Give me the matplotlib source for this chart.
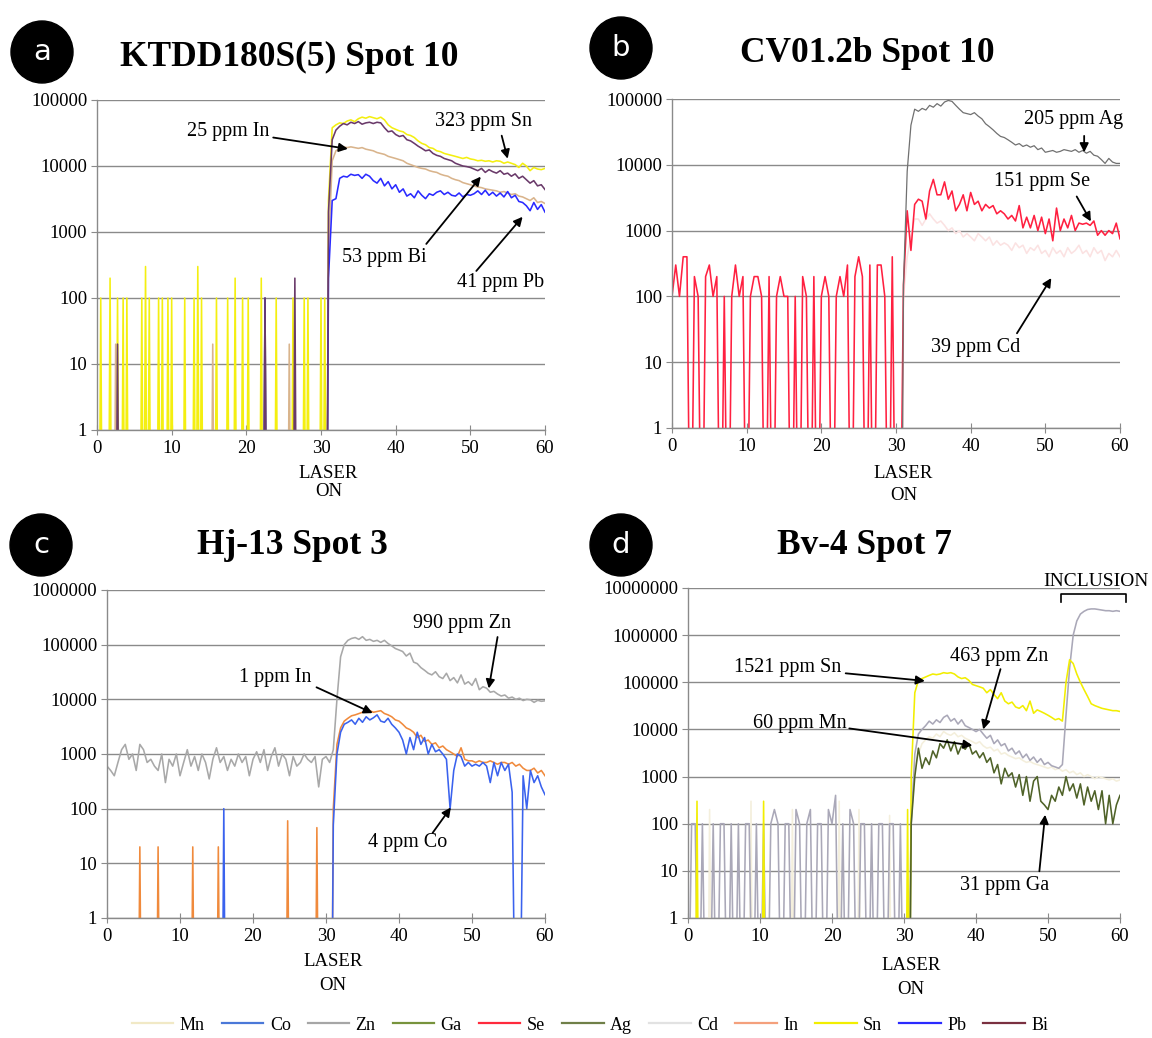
import numpy as np
import matplotlib
matplotlib.use("Agg")
import matplotlib.pyplot as plt
from matplotlib.lines import Line2D
from matplotlib.patches import Ellipse
from matplotlib.ticker import NullLocator

plt.rcParams['font.family'] = ['Liberation Serif', 'DejaVu Serif']

# ---------------- DATA ----------------
# background (before laser on) sparse spikes: times (s) and cps values; signal: cps every 0.5 s from 31.0 s
# Panel a : KTDD180S(5) Spot 10
sn_a_bg_t = [0.5, 1.75, 2.75, 3.5, 4.0, 6.0, 6.5, 7.0, 8.25, 8.75, 9.5, 10.0, 11.75, 13.0, 13.5,
             14.0, 16.0, 17.5, 18.5, 19.5, 20.25, 22.0, 22.5, 24.0, 26.25, 27.75, 28.25, 30.0, 30.5]
sn_a_bg_v = [100, 200, 100, 100, 100, 100, 300, 100, 100, 100, 100, 100, 100, 100, 300,
             100, 100, 100, 200, 100, 100, 200, 100, 100, 100, 100, 100, 100, 100]
bi_a_bg_t = [2.75, 22.5, 26.5]
bi_a_bg_v = [20, 100, 200]
in_a_bg_t = [2.5, 15.5, 25.75]
in_a_bg_v = [20, 20, 20]
pb_a_bg_t = [22.5]
pb_a_bg_v = [100]
sn_a = [3000, 38000, 42000, 45000, 44000, 48000, 50000, 47000, 52000, 55000,
        53000, 56000, 54000, 52000, 55000, 50000, 42000, 38000, 36000, 34000,
        33000, 30000, 29000, 27000, 24000, 22000, 21000, 19000, 18500, 17000,
        16500, 15500, 15000, 14500, 14000, 13500, 13000, 13500, 12800, 12500,
        12000, 12200, 11800, 12000, 11500, 12000, 11800, 11000, 11500, 11000,
        10500, 9500, 11000, 10000, 8500, 9500, 9000, 8800, 9200]
bi_a = [2000, 25000, 35000, 40000, 44000, 42000, 46000, 44000, 47000, 43000,
        45000, 46000, 44000, 46000, 45000, 38000, 33000, 34000, 30000, 28000,
        29000, 25000, 24000, 22000, 20000, 18500, 17000, 17500, 15500, 14500,
        14000, 13000, 12500, 12000, 11000, 10500, 10000, 9800, 9500, 9000,
        8500, 9200, 8000, 8800, 8200, 7800, 8500, 7500, 7800, 7000,
        7600, 6500, 7000, 6200, 5500, 6000, 5000, 5200, 4400]
in_a = [500, 12000, 17000, 18500, 19500, 19000, 19500, 19000, 18500, 19000,
        18000, 17500, 17000, 16000, 15500, 15000, 14000, 13500, 13000, 12500,
        12000, 11000, 10500, 10000, 9500, 9200, 9000, 8500, 8200, 8000,
        7500, 7200, 7000, 6500, 6200, 6000, 5600, 5400, 5200, 5000,
        4800, 4700, 4500, 4400, 4300, 4200, 4000, 4100, 3900, 3700,
        3800, 3500, 3400, 3200, 3000, 3300, 2800, 2900, 2700]
pb_a = [200, 3000, 3200, 6500, 7000, 6800, 7500, 7200, 7400, 6500,
        7500, 7000, 6000, 5500, 6500, 5000, 5800, 4500, 5200, 4000,
        4500, 3500, 3800, 3300, 4200, 3600, 3200, 3800, 3600, 4000,
        4200, 3700, 4000, 3600, 3500, 3900, 3400, 3700, 3600, 3800,
        4200, 3700, 4300, 3600, 4000, 3500, 3900, 3400, 4100, 3300,
        3600, 2900, 2800, 2500, 2100, 2800, 2200, 2600, 2000]

# Panel b : CV01.2b Spot 10 (Se background every 0.5 s from 0 s)
se_b_bg = [100, 300, 100, 400, 400, 0, 200, 100, 0, 200,
           300, 100, 200, 0, 100, 0, 100, 300, 100, 200,
           0, 100, 200, 200, 100, 0, 200, 0, 100, 200,
           100, 100, 0, 100, 0, 200, 100, 0, 200, 0,
           100, 200, 100, 0, 100, 200, 100, 300, 0, 200,
           400, 200, 0, 300, 0, 300, 300, 100, 0, 400,
           0, 0]
ag_b = [150, 8000, 40000, 70000, 65000, 72000, 68000, 80000, 75000, 85000,
        78000, 90000, 95000, 92000, 80000, 70000, 62000, 60000, 58000, 62000,
        55000, 50000, 42000, 38000, 34000, 30000, 27000, 26000, 24000, 22000,
        20000, 21000, 19000, 20000, 18500, 19500, 17000, 18000, 15500, 16000,
        16500, 15500, 16000, 17000, 16500, 16000, 17000, 15500, 16500, 15000,
        16000, 14000, 13500, 12000, 10500, 12500, 11000, 10500, 10500]
se_b = [150, 2000, 500, 2500, 3000, 2800, 1500, 4000, 6000, 3500,
        3500, 5500, 3000, 4000, 2000, 2500, 3500, 2000, 3800, 2500,
        2800, 2000, 2500, 2200, 2400, 1800, 2000, 1800, 1500, 1700,
        1400, 2400, 1100, 1600, 1100, 1700, 1000, 1600, 900, 1500,
        700, 2200, 1000, 1500, 1100, 1700, 1000, 1300, 1250, 1300,
        1200, 1400, 850, 1000, 850, 1000, 900, 1300, 750]
cd_b = [100, 400, 800, 1500, 1500, 1200, 1500, 1800, 1500, 1300,
        1400, 1200, 1000, 1100, 900, 1000, 800, 900, 800, 700,
        900, 800, 700, 800, 600, 700, 600, 650, 600, 500,
        650, 550, 600, 450, 550, 500, 600, 450, 500, 400,
        550, 450, 500, 400, 550, 450, 500, 600, 450, 500,
        400, 550, 450, 500, 350, 450, 400, 500, 400]

# Panel c : Hj-13 Spot 3
zn_c_bg = [600, 500, 400, 700, 1200, 1500, 800, 1000, 500, 1500,
           1200, 700, 800, 600, 500, 1000, 300, 800, 600, 1000,
           400, 700, 1200, 600, 900, 500, 1000, 700, 350, 800,
           1300, 700, 900, 500, 800, 600, 1000, 700, 900, 400,
           800, 1100, 700, 1200, 500, 900, 1300, 600, 1000, 800,
           400, 900, 600, 700, 1000, 800, 700, 900, 250, 800,
           900, 700]
in_c_bg_t = [4.5, 7.0, 11.75, 15.25, 24.75, 28.75]
in_c_bg_v = [20, 20, 20, 20, 60, 45]
co_c_bg_t = [16.0]
co_c_bg_v = [100]
zn_c = [1200, 10000, 60000, 100000, 120000, 130000, 135000, 125000, 140000, 120000,
        125000, 115000, 120000, 110000, 120000, 105000, 95000, 85000, 80000, 75000,
        62000, 70000, 48000, 45000, 38000, 34000, 30000, 28000, 32000, 26000,
        24000, 30000, 22000, 25000, 20000, 28000, 19000, 21000, 18000, 24000,
        15000, 17000, 16000, 13500, 14000, 12500, 11500, 12000, 10500, 11000,
        10000, 10500, 9500, 10000, 9800, 8800, 9600, 9200, 9400]
in_c = [100, 1500, 3000, 4000, 4500, 5000, 5200, 5500, 5800, 6000,
        6200, 5800, 6000, 6200, 5500, 5200, 4800, 4200, 4000, 3500,
        3000, 2800, 2500, 2000, 2200, 1700, 1800, 1500, 1600, 1300,
        1400, 1200, 1100, 1000, 900, 1300, 800, 750, 750, 700,
        750, 700, 700, 750, 700, 650, 700, 700, 650, 700,
        600, 650, 550, 500, 500, 550, 450, 500, 400]
co_c = [50, 1000, 2500, 3500, 3800, 4200, 3500, 4500, 3800, 4800,
        4200, 4600, 5200, 4000, 3800, 4500, 3500, 3000, 2500, 1800,
        1000, 2000, 1200, 2500, 1500, 2000, 1000, 1500, 1100, 1200,
        1000, 800, 100, 500, 1000, 900, 600, 700, 600, 650,
        600, 700, 600, 300, 700, 400, 700, 500, 650, 200,
        0, 0, 400, 100, 500, 300, 400, 250, 180]

# Panel d : Bv-4 Spot 7
zn_d_bg = [0, 100, 100, 0, 100, 0, 0, 100, 0, 100,
           100, 0, 100, 0, 100, 0, 100, 100, 0, 100,
           0, 100, 0, 100, 200, 100, 0, 100, 100, 0,
           200, 100, 0, 100, 200, 0, 100, 100, 0, 200,
           100, 400, 0, 100, 0, 200, 100, 0, 100, 100,
           0, 100, 0, 100, 100, 0, 100, 100, 0, 100,
           0, 0]
sn_d_bg_t = [1.25, 10.5, 30.5]
sn_d_bg_v = [300, 300, 200]
mn_d_bg_t = [3.0, 8.75, 14.5, 21.0, 23.75, 28.0]
mn_d_bg_v = [200, 300, 200, 300, 200, 150]
sn_d = [1000, 60000, 110000, 120000, 130000, 140000, 150000, 145000, 150000, 160000,
        155000, 160000, 150000, 130000, 120000, 125000, 110000, 90000, 85000, 80000,
        75000, 60000, 70000, 55000, 45000, 60000, 40000, 35000, 38000, 30000,
        28000, 32000, 25000, 40000, 22000, 26000, 24000, 22000, 20000, 18000,
        16000, 17000, 15000, 100000, 300000, 250000, 150000, 100000, 70000, 50000,
        35000, 32000, 30000, 28000, 27000, 26000, 25000, 25000, 24000]
zn_d = [100, 3000, 8000, 10000, 12000, 15000, 13000, 16000, 14000, 18000,
        20000, 15000, 17000, 13000, 16000, 12000, 11000, 10000, 9000, 10000,
        8000, 6500, 7500, 5000, 6000, 4500, 5000, 3500, 4000, 3000,
        3500, 2500, 3000, 2200, 2600, 2000, 2400, 1800, 2000, 1700,
        1600, 1500, 1800, 20000, 200000, 1000000, 2000000, 2800000, 3200000, 3500000,
        3600000, 3600000, 3500000, 3400000, 3300000, 3300000, 3200000, 3300000, 3200000]
ga_d = [100, 1000, 4000, 1500, 2500, 1800, 3500, 2500, 5000, 4000,
        6000, 3500, 5500, 3000, 4500, 3800, 5000, 3000, 3500, 2500,
        3200, 2000, 2500, 1200, 1800, 700, 1500, 1000, 1200, 600,
        1100, 400, 1000, 300, 800, 1000, 300, 250, 200, 400,
        300, 600, 400, 1000, 500, 700, 350, 700, 250, 600,
        300, 500, 200, 500, 100, 400, 100, 250, 400]
mn_d = [100, 1500, 3000, 5000, 6000, 7000, 6500, 8000, 7000, 9000,
        8000, 7500, 8500, 7000, 7500, 6500, 6000, 5500, 5000, 5500,
        4500, 4000, 4200, 3500, 3800, 3000, 3200, 2800, 2600, 2400,
        2500, 2200, 2000, 2100, 1900, 1800, 1700, 1600, 1500, 1600,
        1400, 1500, 1300, 1400, 1200, 1300, 1100, 1200, 1000, 1100,
        1000, 900, 1000, 950, 900, 850, 900, 800, 850]

legend_labels = ['Mn', 'Co', 'Zn', 'Ga', 'Se', 'Ag', 'Cd', 'In', 'Sn', 'Pb', 'Bi']
legend_colors = ['#f1e9c6', '#4a78d8', '#a6a6a6', '#77933c', '#ff2a3c', '#6f7f48',
                 '#e2e2e2', '#f4a07c', '#f2ee00', '#2a2aff', '#7a3040']

T_ON = 31.0
SIG_STEP = 0.5


def build(sig, bg_t=None, bg_v=None, bg_dense=None, bg_step=0.25):
    if bg_dense is not None:
        tb = np.arange(len(bg_dense)) * 0.5
        vb = np.array(bg_dense, dtype=float)
    else:
        tb = np.arange(0, T_ON, bg_step)
        vb = np.zeros_like(tb)
        if bg_t:
            for t, v in zip(bg_t, bg_v):
                vb[int(round(t / bg_step))] = v
    ts = T_ON + SIG_STEP * np.arange(len(sig))
    t = np.concatenate([tb, ts])
    v = np.concatenate([vb, np.array(sig, dtype=float)])
    v = np.where(v <= 0, 1e-3, v)
    return t, v


W, H = 1152, 1038
fig = plt.figure(figsize=(W / 100, H / 100), dpi=100)


def px_axes(x0, x1, ytop, ybot):
    return fig.add_axes([x0 / W, 1 - ybot / H, (x1 - x0) / W, (ybot - ytop) / H])


GRID = '#8a8a8a'


def style(ax, ymax_exp):
    ax.set_yscale('log')
    ax.set_xlim(0, 60)
    ax.set_ylim(1, 10 ** ymax_exp)
    ticks = [10 ** k for k in range(ymax_exp + 1)]
    ax.set_yticks(ticks)
    ax.set_yticklabels([str(k) for k in ticks])
    ax.yaxis.set_minor_locator(NullLocator())
    ax.set_xticks(range(0, 61, 10))
    ax.grid(axis='y', color=GRID, lw=1.0)
    ax.set_axisbelow(True)
    for s in ['top', 'right']:
        ax.spines[s].set_visible(False)
    for s in ['left', 'bottom']:
        ax.spines[s].set_color(GRID)
        ax.spines[s].set_linewidth(1.0)
    ax.tick_params(axis='x', direction='inout', length=7, color=GRID, labelsize=13.5, pad=4)
    ax.tick_params(axis='y', direction='out', length=4, color=GRID, labelsize=13.5, pad=3)


def laser(ax, d1, d2):
    ax.annotate('LASER', xy=(31, 0), xycoords=('data', 'axes fraction'), xytext=(0, -d1),
                textcoords='offset pixels', ha='center', va='center', fontsize=13.5)
    ax.annotate('ON', xy=(31, 0), xycoords=('data', 'axes fraction'), xytext=(0, -d2),
                textcoords='offset pixels', ha='center', va='center', fontsize=13.5)


def note(ax, text, tpos, start, end):
    ax.text(tpos[0], tpos[1], text, ha='center', va='center', fontsize=14.5, zorder=10)
    ax.annotate('', xy=end, xytext=start,
                arrowprops=dict(arrowstyle='-|>', color='black', lw=1.3, mutation_scale=13,
                                shrinkA=0, shrinkB=0), zorder=10)


def badge(cx, cy, letter):
    r = 31
    fig.patches.append(Ellipse((cx / W, 1 - cy / H), 2 * r / W, 2 * r / H,
                               transform=fig.transFigure, color='black', zorder=5))
    fig.text(cx / W, 1 - cy / H, letter, color='white', ha='center', va='center',
             fontsize=21, family='DejaVu Sans', zorder=6)


def title(cx, cy, s):
    fig.text(cx / W, 1 - cy / H, s, ha='center', va='center', fontsize=25.5, fontweight='bold')


LW = 1.15

# ---------- Panel a ----------
axa = px_axes(97, 545, 100, 430)
style(axa, 5)
t, v = build(sn_a, sn_a_bg_t, sn_a_bg_v); axa.plot(t, v, color='#f4ef10', lw=LW)
t, v = build(in_a, in_a_bg_t, in_a_bg_v); axa.plot(t, v, color='#d9b48c', lw=LW)
t, v = build(pb_a, pb_a_bg_t, pb_a_bg_v); axa.plot(t, v, color='#2a2aff', lw=LW)
t, v = build(bi_a, bi_a_bg_t, bi_a_bg_v); axa.plot(t, v, color='#6a3a6a', lw=LW)
note(axa, '25 ppm In', (17.6, 33000), (23.6, 27000), (33.6, 18200))
note(axa, '323 ppm Sn', (51.8, 46800), (54.2, 28800), (55.0, 12900))
note(axa, '53 ppm Bi', (38.5, 417), (44.1, 660), (51.4, 6900))
note(axa, '41 ppm Pb', (54.1, 174), (50.8, 257), (57.0, 1700))
laser(axa, 43, 62)
badge(42, 52, 'a')
title(289, 57, 'KTDD180S(5) Spot 10')

# ---------- Panel b ----------
axb = px_axes(672, 1120, 99, 428)
style(axb, 5)
t, v = build(cd_b); axb.plot(t, v, color='#fbe2e2', lw=LW)
t, v = build(se_b, bg_dense=se_b_bg); axb.plot(t, v, color='#ff2040', lw=LW)
t, v = build(ag_b); axb.plot(t, v, color='#707070', lw=0.9)
note(axb, '205 ppm Ag', (53.8, 48000), (55.2, 27500), (55.2, 15500))
note(axb, '151 ppm Se', (49.6, 5500), (54.2, 3300), (56.1, 1380))
note(axb, '39 ppm Cd', (40.6, 17), (46.2, 27.5), (50.8, 190))
laser(axb, 45, 68)
badge(621, 48, 'b')
title(867, 54, 'CV01.2b Spot 10')

# ---------- Panel c ----------
axc = px_axes(107, 545, 590, 918)
style(axc, 6)
t, v = build(zn_c, bg_dense=zn_c_bg); axc.plot(t, v, color='#a8a8a8', lw=LW)
t, v = build(in_c, in_c_bg_t, in_c_bg_v); axc.plot(t, v, color='#f08a3c', lw=LW)
t, v = build(co_c, co_c_bg_t, co_c_bg_v); axc.plot(t, v, color='#3a62ee', lw=LW)
note(axc, '990 ppm Zn', (48.6, 245000), (53.5, 138000), (52.3, 15800))
note(axc, '1 ppm In', (23.1, 25000), (28.7, 16600), (36.4, 5600))
note(axc, '4 ppm Co', (41.2, 24), (44.6, 36), (47.1, 105))
laser(axc, 43, 67)
badge(41, 545, 'c')
title(292, 545, 'Hj-13 Spot 3')

# ---------- Panel d ----------
axd = px_axes(688, 1120, 588, 918)
style(axd, 7)
t, v = build(mn_d, mn_d_bg_t, mn_d_bg_v); axd.plot(t, v, color='#f4efdc', lw=LW)
t, v = build(zn_d, bg_dense=zn_d_bg); axd.plot(t, v, color='#aaa8b8', lw=LW)
t, v = build(sn_d, sn_d_bg_t, sn_d_bg_v); axd.plot(t, v, color='#f2ee00', lw=LW)
t, v = build(ga_d); axd.plot(t, v, color='#4f6228', lw=LW)
note(axd, '1521 ppm Sn', (13.8, 204000), (21.9, 155000), (32.9, 107000))
note(axd, '463 ppm Zn', (43.2, 355000), (43.4, 190000), (41.0, 10000))
note(axd, '60 ppm Mn', (15.5, 13500), (22.4, 10500), (39.5, 4570))
note(axd, '31 ppm Ga', (43.9, 4.9), (48.8, 9.8), (49.6, 155))
axd.text(56.7, 1.35e7, 'INCLUSION', ha='center', va='center', fontsize=14, clip_on=False)
axd.plot([51.8, 51.8, 60.9, 60.9], [5.0e6, 7.4e6, 7.4e6, 5.0e6], color='black', lw=1.2,
         clip_on=False)
laser(axd, 48, 72)
badge(621, 545, 'd')
title(864, 545, 'Bv-4 Spot 7')

# ---------- Legend ----------
handles = [Line2D([0], [0], color=c, lw=1.6) for c in legend_colors]
fig.legend(handles, legend_labels, loc='center', bbox_to_anchor=(590 / W, 1 - 1025 / H),
           ncol=11, frameon=False, fontsize=13, handlelength=2.3, handletextpad=0.35,
           columnspacing=0.95)

fig.savefig('out.png', dpi=100)
